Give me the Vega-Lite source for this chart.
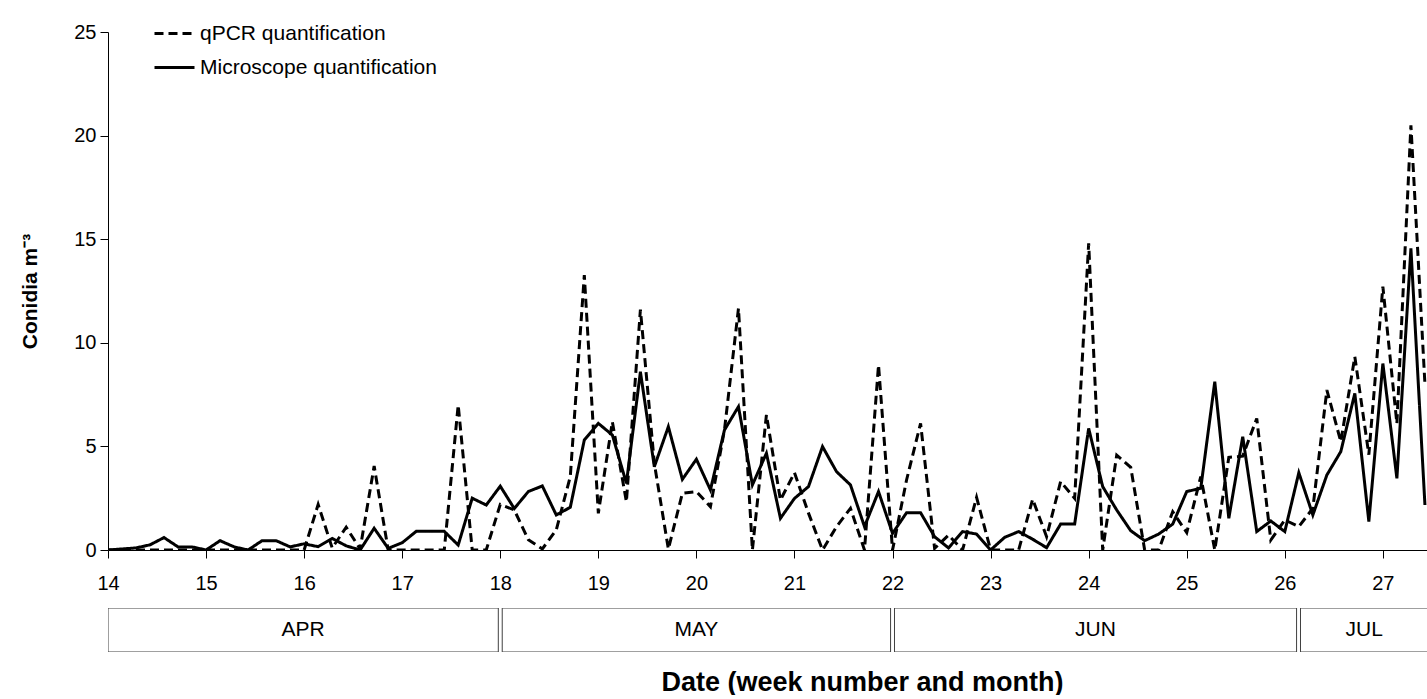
{
  "$schema": "https://vega.github.io/schema/vega-lite/v6.json",
  "padding": {"left": 19, "top": 12, "right": 0, "bottom": 0},
  "background": "white",
  "spacing": 58,
  "bounds": "flush",
  "config": {
    "view": {"stroke": null},
    "font": "Liberation Sans",
    "axis": {"grid": false, "domainColor": "black", "tickColor": "black", "labelColor": "black", "titleColor": "black", "domainWidth": 1, "tickWidth": 1}
  },
  "vconcat": [
    {
      "width": 1319,
      "height": 518,
      "data": {"values": [
        {"week": 14, "qPCR quantification": 0, "Microscope quantification": 0},
        {"week": 14.143, "qPCR quantification": 0, "Microscope quantification": 0.05},
        {"week": 14.286, "qPCR quantification": 0, "Microscope quantification": 0.1},
        {"week": 14.429, "qPCR quantification": 0, "Microscope quantification": 0.25},
        {"week": 14.571, "qPCR quantification": 0, "Microscope quantification": 0.6},
        {"week": 14.714, "qPCR quantification": 0, "Microscope quantification": 0.15},
        {"week": 14.857, "qPCR quantification": 0, "Microscope quantification": 0.15},
        {"week": 15, "qPCR quantification": 0, "Microscope quantification": 0},
        {"week": 15.143, "qPCR quantification": 0, "Microscope quantification": 0.45},
        {"week": 15.286, "qPCR quantification": 0, "Microscope quantification": 0.15},
        {"week": 15.429, "qPCR quantification": 0, "Microscope quantification": 0},
        {"week": 15.571, "qPCR quantification": 0, "Microscope quantification": 0.45},
        {"week": 15.714, "qPCR quantification": 0, "Microscope quantification": 0.45},
        {"week": 15.857, "qPCR quantification": 0, "Microscope quantification": 0.15},
        {"week": 16, "qPCR quantification": 0, "Microscope quantification": 0.3},
        {"week": 16.143, "qPCR quantification": 2.2, "Microscope quantification": 0.16},
        {"week": 16.286, "qPCR quantification": 0.1, "Microscope quantification": 0.56},
        {"week": 16.429, "qPCR quantification": 1.1, "Microscope quantification": 0.2},
        {"week": 16.571, "qPCR quantification": 0.05, "Microscope quantification": 0},
        {"week": 16.714, "qPCR quantification": 4.05, "Microscope quantification": 1.05},
        {"week": 16.857, "qPCR quantification": 0, "Microscope quantification": 0.08},
        {"week": 17, "qPCR quantification": 0, "Microscope quantification": 0.35},
        {"week": 17.143, "qPCR quantification": 0, "Microscope quantification": 0.9},
        {"week": 17.286, "qPCR quantification": 0, "Microscope quantification": 0.9},
        {"week": 17.429, "qPCR quantification": 0, "Microscope quantification": 0.9},
        {"week": 17.571, "qPCR quantification": 7.0, "Microscope quantification": 0.24},
        {"week": 17.714, "qPCR quantification": 0, "Microscope quantification": 2.5},
        {"week": 17.857, "qPCR quantification": 0, "Microscope quantification": 2.17},
        {"week": 18, "qPCR quantification": 2.2, "Microscope quantification": 3.08},
        {"week": 18.143, "qPCR quantification": 1.93, "Microscope quantification": 2.0},
        {"week": 18.286, "qPCR quantification": 0.5, "Microscope quantification": 2.82},
        {"week": 18.429, "qPCR quantification": 0.05, "Microscope quantification": 3.09},
        {"week": 18.571, "qPCR quantification": 0.97, "Microscope quantification": 1.69},
        {"week": 18.714, "qPCR quantification": 3.54, "Microscope quantification": 2.06},
        {"week": 18.857, "qPCR quantification": 13.27, "Microscope quantification": 5.31},
        {"week": 19, "qPCR quantification": 1.77, "Microscope quantification": 6.11},
        {"week": 19.143, "qPCR quantification": 6.19, "Microscope quantification": 5.55},
        {"week": 19.286, "qPCR quantification": 2.33, "Microscope quantification": 3.22},
        {"week": 19.429, "qPCR quantification": 11.6, "Microscope quantification": 8.6},
        {"week": 19.571, "qPCR quantification": 4.18, "Microscope quantification": 4.02},
        {"week": 19.714, "qPCR quantification": 0.05, "Microscope quantification": 5.95},
        {"week": 19.857, "qPCR quantification": 2.74, "Microscope quantification": 3.41},
        {"week": 20, "qPCR quantification": 2.82, "Microscope quantification": 4.38},
        {"week": 20.143, "qPCR quantification": 2.09, "Microscope quantification": 2.9},
        {"week": 20.286, "qPCR quantification": 5.79, "Microscope quantification": 5.79},
        {"week": 20.429, "qPCR quantification": 11.66, "Microscope quantification": 6.92},
        {"week": 20.571, "qPCR quantification": 0, "Microscope quantification": 3.14},
        {"week": 20.714, "qPCR quantification": 6.52, "Microscope quantification": 4.67},
        {"week": 20.857, "qPCR quantification": 2.41, "Microscope quantification": 1.53},
        {"week": 21, "qPCR quantification": 3.73, "Microscope quantification": 2.49},
        {"week": 21.143, "qPCR quantification": 1.78, "Microscope quantification": 3.06},
        {"week": 21.286, "qPCR quantification": 0, "Microscope quantification": 4.99},
        {"week": 21.429, "qPCR quantification": 1.13, "Microscope quantification": 3.78},
        {"week": 21.571, "qPCR quantification": 2.01, "Microscope quantification": 3.14},
        {"week": 21.714, "qPCR quantification": 0, "Microscope quantification": 1.13},
        {"week": 21.857, "qPCR quantification": 8.93, "Microscope quantification": 2.82},
        {"week": 22, "qPCR quantification": 0, "Microscope quantification": 0.8},
        {"week": 22.143, "qPCR quantification": 3.38, "Microscope quantification": 1.8},
        {"week": 22.286, "qPCR quantification": 6.11, "Microscope quantification": 1.8},
        {"week": 22.429, "qPCR quantification": 0.08, "Microscope quantification": 0.64},
        {"week": 22.571, "qPCR quantification": 0.72, "Microscope quantification": 0.1},
        {"week": 22.714, "qPCR quantification": 0, "Microscope quantification": 0.89},
        {"week": 22.857, "qPCR quantification": 2.54, "Microscope quantification": 0.77},
        {"week": 23, "qPCR quantification": 0, "Microscope quantification": 0},
        {"week": 23.143, "qPCR quantification": 0, "Microscope quantification": 0.61},
        {"week": 23.286, "qPCR quantification": 0, "Microscope quantification": 0.89},
        {"week": 23.429, "qPCR quantification": 2.45, "Microscope quantification": 0.52},
        {"week": 23.571, "qPCR quantification": 0.64, "Microscope quantification": 0.11},
        {"week": 23.714, "qPCR quantification": 3.3, "Microscope quantification": 1.25},
        {"week": 23.857, "qPCR quantification": 2.49, "Microscope quantification": 1.25},
        {"week": 24, "qPCR quantification": 14.8, "Microscope quantification": 5.87},
        {"week": 24.143, "qPCR quantification": 0, "Microscope quantification": 3.06},
        {"week": 24.286, "qPCR quantification": 4.58, "Microscope quantification": 1.93},
        {"week": 24.429, "qPCR quantification": 3.99, "Microscope quantification": 0.93},
        {"week": 24.571, "qPCR quantification": 0, "Microscope quantification": 0.45},
        {"week": 24.714, "qPCR quantification": 0, "Microscope quantification": 0.77},
        {"week": 24.857, "qPCR quantification": 1.85, "Microscope quantification": 1.25},
        {"week": 25, "qPCR quantification": 0.84, "Microscope quantification": 2.82},
        {"week": 25.143, "qPCR quantification": 3.54, "Microscope quantification": 2.98},
        {"week": 25.286, "qPCR quantification": 0, "Microscope quantification": 8.12},
        {"week": 25.429, "qPCR quantification": 4.47, "Microscope quantification": 1.53},
        {"week": 25.571, "qPCR quantification": 4.53, "Microscope quantification": 5.47},
        {"week": 25.714, "qPCR quantification": 6.35, "Microscope quantification": 0.89},
        {"week": 25.857, "qPCR quantification": 0.48, "Microscope quantification": 1.4},
        {"week": 26, "qPCR quantification": 1.45, "Microscope quantification": 0.89},
        {"week": 26.143, "qPCR quantification": 1.13, "Microscope quantification": 3.73},
        {"week": 26.286, "qPCR quantification": 2.01, "Microscope quantification": 1.69},
        {"week": 26.429, "qPCR quantification": 7.72, "Microscope quantification": 3.62},
        {"week": 26.571, "qPCR quantification": 5.23, "Microscope quantification": 4.75},
        {"week": 26.714, "qPCR quantification": 9.33, "Microscope quantification": 7.56},
        {"week": 26.857, "qPCR quantification": 4.6, "Microscope quantification": 1.37},
        {"week": 27, "qPCR quantification": 12.71, "Microscope quantification": 9.0},
        {"week": 27.143, "qPCR quantification": 6.1, "Microscope quantification": 3.46},
        {"week": 27.286, "qPCR quantification": 20.5, "Microscope quantification": 14.56},
        {"week": 27.429, "qPCR quantification": 8, "Microscope quantification": 2.17}
      ]},
      "transform": [{"fold": ["qPCR quantification", "Microscope quantification"], "as": ["series", "value"]}],
      "mark": {"type": "line", "color": "black", "strokeWidth": 3, "clip": true},
      "encoding": {
        "x": {
          "field": "week", "type": "quantitative",
          "scale": {"domain": [14, 27.45], "nice": false, "zero": false},
          "axis": {"values": [14, 15, 16, 17, 18, 19, 20, 21, 22, 23, 24, 25, 26, 27], "title": null, "labelFontSize": 20, "tickSize": 8, "labelPadding": 15, "labelFlush": false}
        },
        "y": {
          "field": "value", "type": "quantitative",
          "scale": {"domain": [0, 25], "nice": false},
          "axis": {"values": [0, 5, 10, 15, 20, 25], "title": "Conidia m⁻³", "titleFontSize": 21, "titleFontWeight": "bold", "titlePadding": 33, "labelFontSize": 20, "tickSize": 8, "labelPadding": 4}
        },
        "strokeDash": {
          "field": "series", "type": "nominal",
          "scale": {"domain": ["qPCR quantification", "Microscope quantification"], "range": [[9, 5], [1, 0]]},
          "legend": {"title": null, "orient": "none", "legendX": 45, "legendY": -20, "labelFontSize": 21, "labelLimit": 0, "labelColor": "black", "symbolType": "stroke", "symbolSize": 1600, "symbolStrokeWidth": 3, "symbolStrokeColor": "black", "rowPadding": 2, "labelOffset": 4}
        }
      }
    },
    {
      "width": 1319,
      "height": 44,
      "data": {"values": [
        {"month": "APR", "start": 14, "end": 17.98, "mid": 15.99},
        {"month": "MAY", "start": 18.02, "end": 21.98, "mid": 20.0},
        {"month": "JUN", "start": 22.02, "end": 26.12, "mid": 24.07},
        {"month": "JUL", "start": 26.16, "end": 27.47, "mid": 26.81}
      ]},
      "layer": [
        {
          "mark": {"type": "rect", "fill": "white", "stroke": "#404040", "strokeWidth": 1, "clip": true},
          "encoding": {
            "x": {"field": "start", "type": "quantitative", "scale": {"domain": [14, 27.45], "nice": false, "zero": false},
              "axis": {"title": "Date (week number and month)", "labels": false, "ticks": false, "domain": false, "titleFontSize": 27, "titleFontWeight": "bold", "titlePadding": 17, "titleX": 754}},
            "x2": {"field": "end"}
          }
        },
        {
          "mark": {"type": "text", "fontSize": 21, "color": "black", "font": "Liberation Sans"},
          "encoding": {
            "x": {"field": "mid", "type": "quantitative"},
            "text": {"field": "month"}
          }
        }
      ]
    }
  ]
}
